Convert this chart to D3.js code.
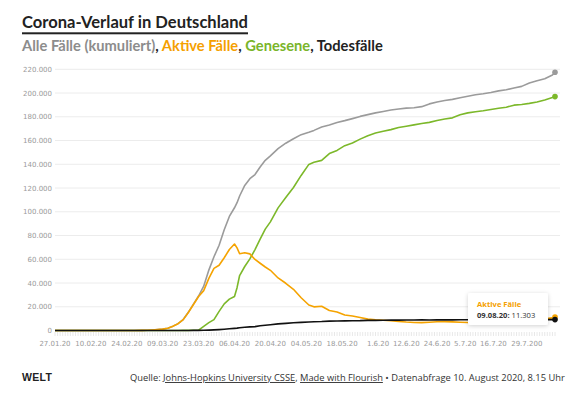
<!DOCTYPE html>
<html>
<head>
<meta charset="utf-8">
<script src="https://cdn.jsdelivr.net/npm/d3@7"></script>
<style>
  body { margin: 0; background: #fff; }
  svg { display: block; }
</style>
</head>
<body>
<script>
// Tage (2020) und Werte
const tage = ["27.01","31.01","04.02","08.02","12.02","16.02","20.02","24.02","27.02","01.03",
  "03.03","05.03","07.03","09.03","11.03","13.03","15.03","17.03","19.03","21.03",
  "23.03","25.03","27.03","29.03","31.03","02.04","04.04","06.04","07.04","08.04",
  "10.04","12.04","14.04","16.04","18.04","20.04","23.04","26.04","29.04","02.05",
  "05.05","07.05","10.05","13.05","16.05","19.05","22.05","25.05","28.05","31.05",
  "03.06","06.06","09.06","12.06","15.06","18.06","21.06","24.06","27.06","30.06",
  "03.07","06.07","09.07","12.07","15.07","18.07","21.07","24.07","27.07","30.07",
  "02.08","05.08","08.08","09.08"];

const gesamt = [1,5,12,14,16,16,16,16,46,130,
  196,482,799,1176,1908,3675,5795,9257,15320,22213,
  29056,37323,50871,62095,71808,84794,96092,103374,107663,113296,
  122171,127854,131359,137698,143342,147065,153129,157770,161539,164967,
  167007,168551,171324,173171,175233,176752,178473,180328,181815,183294,
  184472,185674,186522,187267,187671,188534,190862,192480,193761,194693,
  196096,197341,198556,199375,200456,201823,202735,204276,205609,208546,
  210402,212022,215210,217500];

const aktiv = [1,5,12,14,15,15,2,2,30,114,
  180,466,781,1156,1880,3622,5736,9161,15171,21896,
  28667,33570,43871,52351,54933,61247,68248,72864,69566,64647,
  65491,64532,59865,56646,53483,50703,44254,39794,34672,27555,
  21500,19900,20400,16900,15600,13000,12200,11000,9600,9000,
  8600,8200,7600,7100,6800,6600,7000,7400,7500,7300,
  7000,6700,6800,6900,7000,7200,7300,7400,7800,8600,
  9300,9800,10600,11303];

const genesen = [0,0,0,0,1,1,14,14,16,16,
  16,16,18,18,25,46,46,72,105,233,
  266,3547,6658,9211,16100,22440,26400,28700,36081,46300,
  53913,60300,68200,77000,85400,91500,103300,112000,120400,130600,
  139900,141700,143300,149000,151700,155700,158000,161200,164100,166400,
  167800,169200,171000,172100,173200,174400,175300,176800,178100,179100,
  181700,183300,184300,185100,186100,187200,188100,189800,190400,191300,
  192500,194200,196300,197000];

const tote = [0,0,0,0,0,0,0,0,0,0,
  0,0,0,2,3,7,13,24,44,84,
  123,206,342,533,775,1107,1444,1810,2016,2349,
  2767,3022,3294,4052,4459,4862,5575,5976,6467,6812,
  7119,7392,7549,7861,7938,8090,8247,8283,8498,8555,
  8635,8736,8772,8815,8883,8914,8895,8927,8961,8990,
  9020,9036,9061,9071,9079,9090,9096,9118,9125,9148,
  9154,9181,9195,9197];

const tickTage = ["27.01","10.02","24.02","09.03","23.03","06.04","20.04","04.05",
  "18.05","01.06","12.06","24.06","05.07","16.07","29.07"];
const tickTexte = ["27.01.20","10.02.20","24.02.20","09.03.20","23.03.20","06.04.20","20.04.20","04.05.20",
  "18.05.20","1.6.20","12.6.20","24.6.20","5.7.20","16.7.20","29.7.200"];
const yTicks = [0,20000,40000,60000,80000,100000,120000,140000,160000,180000,200000,220000];

const serien = [
  { name: "Alle Fälle (kumuliert)", werte: gesamt, farbe: "#9b9b9b" },
  { name: "Genesene", werte: genesen, farbe: "#7cb82a" },
  { name: "Aktive Fälle", werte: aktiv, farbe: "#f5a300" },
  { name: "Todesfälle", werte: tote, farbe: "#111111" }
];

const W = 584, H = 396;
const parse = s => d3.timeParse("%d.%m.%Y")(s + ".2020");
const daten = tage.map(parse);

const de = d3.formatLocale({ decimal: ",", thousands: ".", grouping: [3], currency: ["", " €"] });
const fmt = de.format(",d");

const svg = d3.select("body").append("svg").attr("width", W).attr("height", H);

// Schatten für den Tooltip
const defs = svg.append("defs");
const f = defs.append("filter").attr("id", "schatten").attr("x", "-20%").attr("y", "-30%").attr("width", "140%").attr("height", "160%");
f.append("feDropShadow").attr("dx", 0).attr("dy", 1).attr("stdDeviation", 2).attr("flood-color", "#000").attr("flood-opacity", 0.18);

const x = d3.scaleTime().domain([parse("27.01"), parse("09.08")]).range([55, 555]);
const y = d3.scaleLinear().domain([0, 220000]).range([330.5, 69.3]);

// Titel
const titel = svg.append("text").attr("x", 22).attr("y", 28)
  .attr("font-family", "Lato, 'Noto Sans', sans-serif").attr("font-weight", 700)
  .attr("font-size", 17).attr("fill", "#222").text("Corona-Verlauf in Deutschland");
// auf Breite bringen
const tb = titel.node().getComputedTextLength();
titel.attr("font-size", 17 * 226 / tb);
svg.append("rect").attr("x", 22).attr("y", 32.3).attr("width", 226).attr("height", 2).attr("fill", "#222");

const sub = svg.append("text").attr("x", 22).attr("y", 51)
  .attr("font-family", "Lato, 'Noto Sans', sans-serif").attr("font-weight", 700).attr("font-size", 15);
const teile = [
  ["Alle Fälle (kumuliert)", "#8c8c8c"], [", ", "#222"],
  ["Aktive Fälle", "#f5a000"], [", ", "#222"],
  ["Genesene", "#7ab52a"], [", ", "#222"],
  ["Todesfälle", "#222"]
];
sub.selectAll("tspan").data(teile).join("tspan").attr("fill", d => d[1]).text(d => d[0]);
const sb = sub.node().getComputedTextLength();
sub.attr("font-size", 15 * 361 / sb);

// Gitter + y-Achse
const g = svg.append("g");
g.selectAll("line.grid").data(yTicks.slice(1)).join("line").attr("class", "grid")
  .attr("x1", 55).attr("x2", 560).attr("y1", d => y(d)).attr("y2", d => y(d))
  .attr("stroke", "#ececec").attr("stroke-width", 1);
g.selectAll("text.ylab").data(yTicks).join("text").attr("class", "ylab")
  .attr("x", 52).attr("y", d => y(d) + 2.5).attr("text-anchor", "end")
  .attr("font-family", "'DejaVu Sans', Verdana, sans-serif").attr("font-size", 7)
  .attr("fill", "#9a9a9a").text(d => fmt(d));

// kleine Tagesstriche unter der x-Achse
const alleTage = d3.timeDay.range(parse("27.01"), d3.timeDay.offset(parse("09.08"), 1));
g.selectAll("line.tag").data(alleTage).join("line").attr("class", "tag")
  .attr("x1", d => x(d)).attr("x2", d => x(d)).attr("y1", 332).attr("y2", 336)
  .attr("stroke", "#e2e2e2").attr("stroke-width", 0.8);

g.selectAll("text.xlab").data(tickTage).join("text").attr("class", "xlab")
  .attr("x", d => x(parse(d))).attr("y", 346).attr("text-anchor", "middle")
  .attr("font-family", "'DejaVu Sans', Verdana, sans-serif").attr("font-size", 7)
  .attr("fill", "#9a9a9a").text((d, i) => tickTexte[i]);

// Linien
const linie = d3.line().x((d, i) => x(daten[i])).y(d => y(d));
svg.selectAll("path.serie").data(serien).join("path").attr("class", "serie")
  .attr("d", s => linie(s.werte)).attr("fill", "none")
  .attr("stroke", s => s.farbe).attr("stroke-width", 1.6)
  .attr("stroke-linejoin", "round");

// Endpunkte
const letzter = daten.length - 1;
svg.selectAll("circle.ende").data(serien).join("circle").attr("class", "ende")
  .attr("cx", x(daten[letzter])).attr("cy", s => y(s.werte[letzter])).attr("r", 2.8)
  .attr("fill", s => s.farbe);

// Tooltip
const tip = svg.append("g").attr("transform", "translate(468,293)");
tip.append("rect").attr("width", 80).attr("height", 32).attr("rx", 2).attr("fill", "#fff")
  .attr("filter", "url(#schatten)");
tip.append("text").attr("x", 9).attr("y", 13.5).attr("font-family", "'Open Sans', sans-serif")
  .attr("font-weight", 700).attr("font-size", 7.6).attr("fill", "#f5a000").text("Aktive Fälle");
const t2 = tip.append("text").attr("x", 9).attr("y", 25).attr("font-family", "'Open Sans', sans-serif")
  .attr("font-size", 7.6).attr("fill", "#333");
t2.append("tspan").attr("font-weight", 700).text("09.08.20:");
t2.append("tspan").text(" " + fmt(aktiv[letzter]));

// Fußzeile
svg.append("text").attr("x", 22).attr("y", 381).attr("font-family", "'Liberation Sans', Arial, sans-serif")
  .attr("font-weight", 700).attr("font-size", 10.5).attr("fill", "#222").attr("letter-spacing", 0.3).text("WELT");

const fuss = svg.append("text").attr("x", 130).attr("y", 381)
  .attr("font-family", "'Open Sans', 'Noto Sans', sans-serif").attr("font-size", 8.5).attr("fill", "#333");
const fussTeile = [
  ["Quelle: ", false], ["Johns-Hopkins University CSSE", true], [", ", false],
  ["Made with Flourish", true], [" • Datenabfrage 10. August 2020, 8.15 Uhr", false]
];
fuss.selectAll("tspan").data(fussTeile).join("tspan")
  .attr("text-decoration", d => d[1] ? "underline" : null).text(d => d[0]);
const fb = fuss.node().getComputedTextLength();
fuss.attr("font-size", 8.5 * 435 / fb);
</script>
</body>
</html>
